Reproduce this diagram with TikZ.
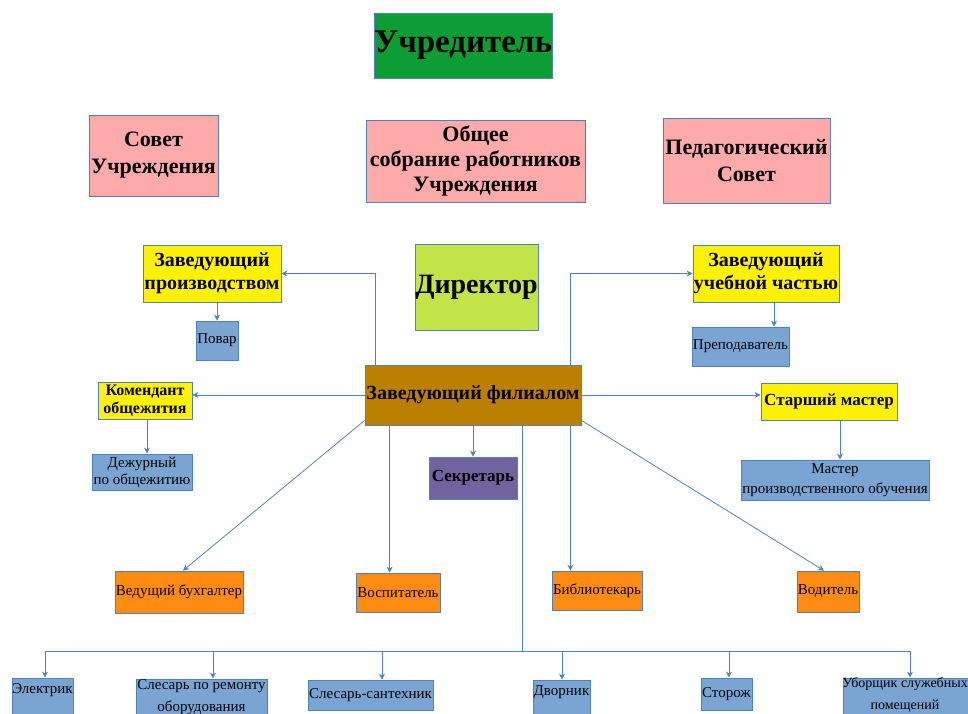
\documentclass[tikz,border=0pt]{standalone}
\usepackage{fontspec}
\setmainfont{Liberation Serif}
\usetikzlibrary{arrows.meta,calc}
\definecolor{bord}{RGB}{79,129,189}
\definecolor{cgreen}{RGB}{12,158,52}
\definecolor{cpink}{RGB}{255,170,170}
\definecolor{clime}{RGB}{194,228,70}
\definecolor{cyel}{RGB}{255,242,0}
\definecolor{cblue}{RGB}{122,164,210}
\definecolor{cbrown}{RGB}{187,128,0}
\definecolor{cpurple}{RGB}{114,98,160}
\definecolor{corange}{RGB}{255,140,18}
\newcommand\bx[7]{\node[#6, minimum width={(#4-#2)*1pt}, minimum height={(#5-#3)*1pt}] (#1) at ({(#2+#4)/2},{-(#3+#5)/2}) {#7};}
\tikzset{
  box/.style={draw=bord, line width=0.8pt, inner sep=0pt, align=center, text=black},
  bgreen/.style={box, fill=cgreen, font=\bfseries\fontsize{33}{36}\selectfont},
  bpink/.style={box, fill=cpink, font=\bfseries\fontsize{22}{27}\selectfont},
  blime/.style={box, fill=clime, font=\bfseries\fontsize{28}{30}\selectfont},
  byel/.style={box, fill=cyel, font=\bfseries\fontsize{20}{23}\selectfont},
  bbrown/.style={box, fill=cbrown, font=\bfseries\fontsize{20}{22}\selectfont},
  bpurple/.style={box, fill=cpurple, font=\bfseries\fontsize{17}{20}\selectfont},
  bblue/.style={box, fill=cblue, font=\fontsize{15}{17}\selectfont},
  borange/.style={box, fill=corange, font=\fontsize{15}{17}\selectfont},
  txt/.style={inner sep=0pt, align=center, text=black, font=\fontsize{15}{17}\selectfont},
  ln/.style={draw=bord, line width=0.8pt},
  arr/.style={ln, -{Stealth[length=6pt,width=6pt]}},
}
\begin{document}
\begin{tikzpicture}[x=1pt,y=1pt]
\clip (0,0) rectangle (968,-713);
\fill[white] (0,0) rectangle (968,-713);
% top level
\bx{ucr}{374}{13}{552}{78}{bgreen}{Учредитель}
\bx{sov}{89}{115}{218}{196}{bpink}{Совет\\Учреждения}
\bx{obs}{366}{120}{585}{202}{bpink, font=\bfseries\fontsize{22}{25}\selectfont}{Общее\\собрание работников\\Учреждения}
\bx{ped}{663}{118}{830}{203}{bpink}{Педагогический\\Совет}
\bx{dir}{415}{244}{538}{330}{blime}{Директор}
% second level
\bx{zpr}{143}{245}{281}{302}{byel}{Заведующий\\производством}
\bx{pov}{196}{321}{238}{360}{bblue}{Повар}
\bx{kom}{98}{382}{192}{419}{byel, font=\bfseries\fontsize{16}{18}\selectfont}{Комендант\\общежития}
\bx{dez}{92}{454}{192}{490}{bblue}{Дежурный\\по общежитию}
\bx{zuc}{693}{245}{839}{302}{byel}{Заведующий\\учебной частью}
\bx{pre}{692}{327}{789}{366}{bblue}{Преподаватель}
\bx{zf}{365}{365}{581}{425}{bbrown}{Заведующий филиалом}
\bx{stm}{761}{383}{897}{420}{byel, font=\bfseries\fontsize{17}{20}\selectfont}{Старший мастер}
\bx{mas}{741}{460}{929}{500}{bblue, font=\fontsize{15}{20}\selectfont}{Мастер\\производственного обучения}
\bx{sek}{429}{457}{517}{499}{bpurple}{Секретарь}
% third level
\bx{buh}{115}{571}{243}{613}{borange}{Ведущий бухгалтер}
\bx{vos}{356}{573}{440}{612}{borange}{Воспитатель}
\bx{bib}{552}{571}{642}{610}{borange}{Библиотекарь}
\bx{vod}{797}{571}{859}{612}{borange}{Водитель}
% bottom row boxes (cut by picture edge)
\bx{ele}{12}{678}{73}{730}{bblue}{}
\bx{slr}{136}{679}{267}{730}{bblue}{}
\bx{san}{308}{680}{433}{710}{bblue}{}
\bx{dvo}{533}{680}{590}{730}{bblue}{}
\bx{sto}{701}{678}{752}{710}{bblue}{}
\bx{ubo}{843}{678}{990}{730}{bblue}{}
\node[txt] (ele-t) at (42.5,-690) {Электрик};
\node[txt, font=\fontsize{15}{22}\selectfont] (slr-t) at (201.5,-697) {Слесарь по ремонту\\оборудования};
\node[txt] (san-t) at (370.5,-695) {Слесарь-сантехник};
\node[txt] (dvo-t) at (561.5,-692) {Дворник};
\node[txt] (sto-t) at (726.5,-694) {Сторож};
\node[txt, font=\fontsize{14}{22}\selectfont] (ubo-t) at (905,-695) {Уборщик служебных\\помещений};
% connectors
\draw[arr] ($(zf.north west)+(11,0)$) |- (zpr.east);
\draw[arr] ($(zf.north east)+(-11,0)$) |- (zuc.west);
\draw[arr] (zf.west) -- (zf.west -| kom.east);
\draw[arr] (zf.east) -- (zf.east -| stm.west);
\draw[arr] (zf.south) -- (sek.north);
\draw[arr] ($(zf.south west)+(0,5)$) -- ($(buh.north)+(4,0)$);
\coordinate (va) at ($(zf.south west)+(25,0)$);
\draw[arr] (va) -- (va |- vos.north);
\coordinate (vb) at ($(zf.south east)+(-11,0)$);
\draw[arr] (vb) -- (vb |- bib.north);
\draw[arr] ($(zf.south east)+(0,5)$) -- ($(vod.north)+(-4,0)$);
\draw[arr] (pov.north |- zpr.south) -- (pov.north);
\draw[arr] ([xshift=2pt]kom.south) -- ([xshift=2pt]kom.south |- dez.north);
\draw[arr] ([xshift=8pt]zuc.south) -- ([xshift=8pt]zuc.south |- pre.north);
\draw[arr] ([xshift=11pt]stm.south) -- ([xshift=11pt]stm.south |- mas.north);
% bus to bottom row
\coordinate (vc) at ($(zf.south west)+(158,0)$);
\coordinate (b1) at (45,-651);
\coordinate (b2) at (213,-651);
\coordinate (b3) at (382,-651);
\coordinate (b4) at (562,-651);
\coordinate (b5) at (729,-651);
\coordinate (b6) at (910,-651);
\draw[ln] (vc) -- (vc |- b1);
\draw[ln] (b1) -- (b6);
\draw[arr] (b1) -- (b1 |- ele.north);
\draw[arr] (b2) -- (b2 |- slr.north);
\draw[arr] (b3) -- (b3 |- san.north);
\draw[arr] (b4) -- (b4 |- dvo.north);
\draw[arr] (b5) -- (b5 |- sto.north);
\draw[arr] (b6) -- (b6 |- ubo.north);
\end{tikzpicture}
\end{document}
